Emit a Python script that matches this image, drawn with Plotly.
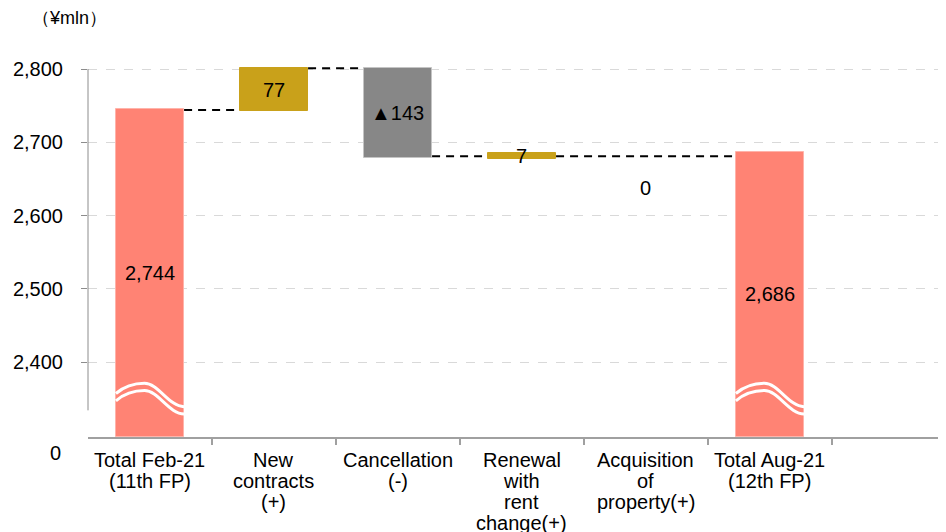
import plotly.graph_objects as go

# data (¥mln)
categories = ["Total Feb-21<br>(11th FP)", "New<br>contracts<br>(+)", "Cancellation<br>(-)",
              "Renewal<br>with<br>rent<br>change(+)", "Acquisition<br>of<br>property(+)",
              "Total Aug-21<br>(12th FP)"]
value_labels = ["2,744", "77", "▲143", "7", "0", "2,686"]
bar_top = [2745, 2801, 2801, 2685, None, 2687]
bar_bottom = [None, 2743, 2678.5, 2677, None, None]   # None -> bar starts at axis floor
bar_colors = ["#ff8374", "#c9a11a", "#878787", "#c9a11a", "#c9a11a", "#ff8374"]
edge_colors = ["#ffb3aa", "#c9a11a", "#c4c4c4", "#c9a11a", "#c9a11a", "#ffb3aa"]
connector_from = [0, 1, 2, 3]
connector_to = [1, 2, 3, 5]
connector_level = [2744, 2801, 2681, 2681]
y_ticks = [2400, 2500, 2600, 2700, 2800]

AXIS_FLOOR = 2297.6
AXIS_TOP = 2812.3
BAR_W = 0.55
FONT = "Liberation Sans, Arial, sans-serif"
LINE_H = 21

bases, heights, xs, cols, edges = [], [], [], [], []
for i, (top, bot) in enumerate(zip(bar_top, bar_bottom)):
    if top is None:
        continue
    b = AXIS_FLOOR if bot is None else bot
    xs.append(i)
    bases.append(b)
    heights.append(top - b)
    cols.append(bar_colors[i])
    edges.append(edge_colors[i])

fig = go.Figure()
fig.add_trace(go.Bar(
    x=xs, y=heights, base=bases, width=BAR_W,
    marker=dict(color=cols, line=dict(color=edges, width=1)),
    hoverinfo="skip", showlegend=False,
))

# connectors
for a, b, lvl in zip(connector_from, connector_to, connector_level):
    fig.add_shape(type="line", xref="x", yref="y",
                  x0=a + BAR_W / 2, x1=b - BAR_W / 2, y0=lvl, y1=lvl,
                  line=dict(color="black", width=2, dash="8px,6px"))

# value labels
for i, txt in enumerate(value_labels):
    top = bar_top[i]
    if top is None:
        y = connector_level[-1]
        yshift = -32
    else:
        bot = AXIS_FLOOR if bar_bottom[i] is None else bar_bottom[i]
        y = (top + bot) / 2
        yshift = 0
    fig.add_annotation(x=i, y=y, text=txt, showarrow=False, yshift=yshift,
                       font=dict(family=FONT, size=20, color="black"))

# category labels, one line at a time for tight line spacing
for i, cat in enumerate(categories):
    for k, line in enumerate(cat.split("<br>")):
        fig.add_annotation(x=i, xref="x", y=0, yref="paper", text=line, showarrow=False,
                           yanchor="middle", yshift=-23 - LINE_H * k,
                           font=dict(family=FONT, size=20, color="black"))

# axis break waves on the total bars
for i, (top, bot) in enumerate(zip(bar_top, bar_bottom)):
    if top is None or bot is not None:
        continue
    l = i - BAR_W / 2
    w = BAR_W
    for off in (0, -10):
        yl, yp, yr = 2357 + off, 2371 + off, 2339 + off
        path = (f"M {l},{yl} C {l + 0.1 * w},{yp - 6} {l + 0.25 * w},{yp} {l + 0.42 * w},{yp} "
                f"C {l + 0.62 * w},{yp} {l + 0.78 * w},{yr} {l + w},{yr}")
        fig.add_shape(type="path", path=path, xref="x", yref="y",
                      line=dict(color="white", width=3))

# y-axis line (broken before the floor)
fig.add_shape(type="line", xref="paper", yref="y", x0=0, x1=0, y0=2334, y1=2800,
              line=dict(color="#8c8c8c", width=1))

fig.add_annotation(xref="paper", yref="y", x=0, y=AXIS_FLOOR, text="0", showarrow=False,
                   xanchor="right", xshift=-25, yshift=-16,
                   font=dict(family=FONT, size=20, color="black"))
fig.add_annotation(xref="paper", yref="paper", x=0, y=1, text="（¥mln）", showarrow=False,
                   xanchor="left", yanchor="middle", xshift=-58, yshift=42,
                   font=dict(family=FONT, size=18, color="black"))

# page body adds an 8px offset; figure is sized to fit the window without scrollbars
fig.update_layout(
    width=938, height=524,
    margin=dict(l=80, r=0, t=52, b=95),
    plot_bgcolor="white", paper_bgcolor="white",
    font=dict(family=FONT, size=18, color="black"),
    bargap=0,
)
fig.update_xaxes(
    range=[-0.5, 6.42],
    showticklabels=False, ticks="",
    showline=True, linecolor="#a0a0a0", linewidth=1.5,
    showgrid=False, zeroline=False, automargin=False,
    minor=dict(tickvals=[i + 0.5 for i in range(6)], ticks="outside",
               ticklen=6, tickcolor="#a0a0a0", tickwidth=1.5),
)
fig.update_yaxes(
    range=[AXIS_FLOOR, AXIS_TOP],
    tickvals=y_ticks, ticktext=[f"{v:,}" for v in y_ticks],
    ticks="outside", ticklen=6, tickcolor="#8c8c8c",
    tickfont=dict(family=FONT, size=20, color="black"),
    ticklabelstandoff=14, automargin=False,
    showgrid=True, gridcolor="#d9d9d9", griddash="dash", gridwidth=1,
    showline=False, zeroline=False,
)

fig.write_html("out.html")
